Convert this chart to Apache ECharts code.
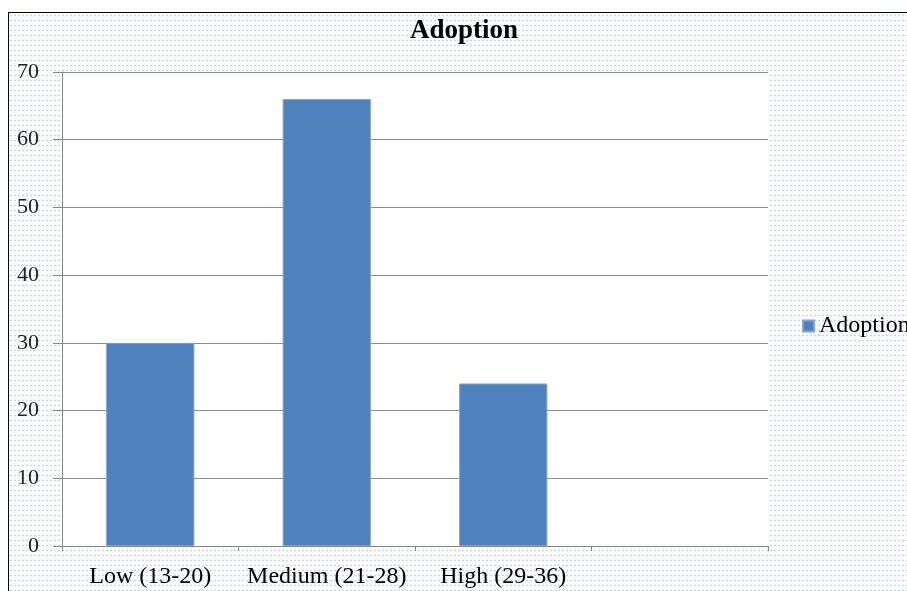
<!DOCTYPE html>
<html>
<head>
<meta charset="utf-8">
<title>Adoption</title>
<script src="https://cdn.jsdelivr.net/npm/echarts@6/dist/echarts.min.js"></script>
<style>
  html, body {
    margin: 0;
    padding: 0;
    width: 907px;
    height: 591px;
    overflow: hidden;
    background: #fff;
  }
  .frame {
    position: absolute;
    left: 8px;
    top: 12px;
    width: 1000px;
    height: 1000px;
    border-left: 1px solid #000;
    border-top: 1px solid #000;
    background-color: #fff;
    background-image: radial-gradient(circle, #c4d4ea 0.8px, transparent 1.2px);
    background-size: 4px 5px;
  }
  .chartBox {
    position: absolute;
    left: 0;
    top: 0;
    width: 907px;
    height: 591px;
  }
</style>
</head>
<body>
<div class="frame"></div>
<div class="chartBox" id="chart"></div>
<script>
// data
var categories = ["Low (13-20)", "Medium (21-28)", "High (29-36)", ""];
var adoption = [30, 66, 24, null];
var seriesName = "Adoption";

var myChart = echarts.init(document.getElementById("chart"));
myChart.setOption({
  animation: false,
  backgroundColor: "transparent",
  title: {
    text: "Adoption",
    left: 410,
    top: 18,
    padding: 0,
    textStyle: {
      fontFamily: "Liberation Serif",
      fontWeight: "bold",
      fontSize: 27,
      color: "#000"
    }
  },
  legend: {
    data: [seriesName],
    left: 802,
    top: 314,
    padding: 0,
    icon: "rect",
    itemWidth: 11,
    itemHeight: 11,
    textStyle: {
      fontFamily: "Liberation Serif",
      fontSize: 24,
      color: "#000"
    }
  },
  grid: {
    left: 62,
    right: 139,
    top: 72,
    bottom: 45,
    show: true,
    backgroundColor: "#fff",
    borderWidth: 0
  },
  xAxis: {
    type: "category",
    data: categories,
    axisLine: {
      lineStyle: { color: "#868686", width: 1 }
    },
    axisTick: {
      show: true,
      length: 5,
      lineStyle: { color: "#868686" }
    },
    axisLabel: {
      interval: 0,
      margin: 19,
      fontFamily: "Liberation Serif",
      fontSize: 24,
      color: "#000"
    },
    splitLine: { show: false }
  },
  yAxis: {
    type: "value",
    min: 0,
    max: 70,
    interval: 10,
    axisLine: {
      show: true,
      lineStyle: { color: "#868686", width: 1 }
    },
    axisTick: {
      show: true,
      length: 9,
      lineStyle: { color: "#868686" }
    },
    axisLabel: {
      margin: 23,
      fontFamily: "Liberation Serif",
      fontSize: 22,
      color: "#222"
    },
    splitLine: {
      show: true,
      lineStyle: { color: "#8c8c8c", width: 1 }
    }
  },
  series: [
    {
      name: seriesName,
      type: "bar",
      data: adoption,
      barCategoryGap: "50%",
      itemStyle: {
        color: "#4f81bd",
        borderColor: "#7fa3d3",
        borderWidth: 1
      }
    }
  ]
});
</script>
</body>
</html>
